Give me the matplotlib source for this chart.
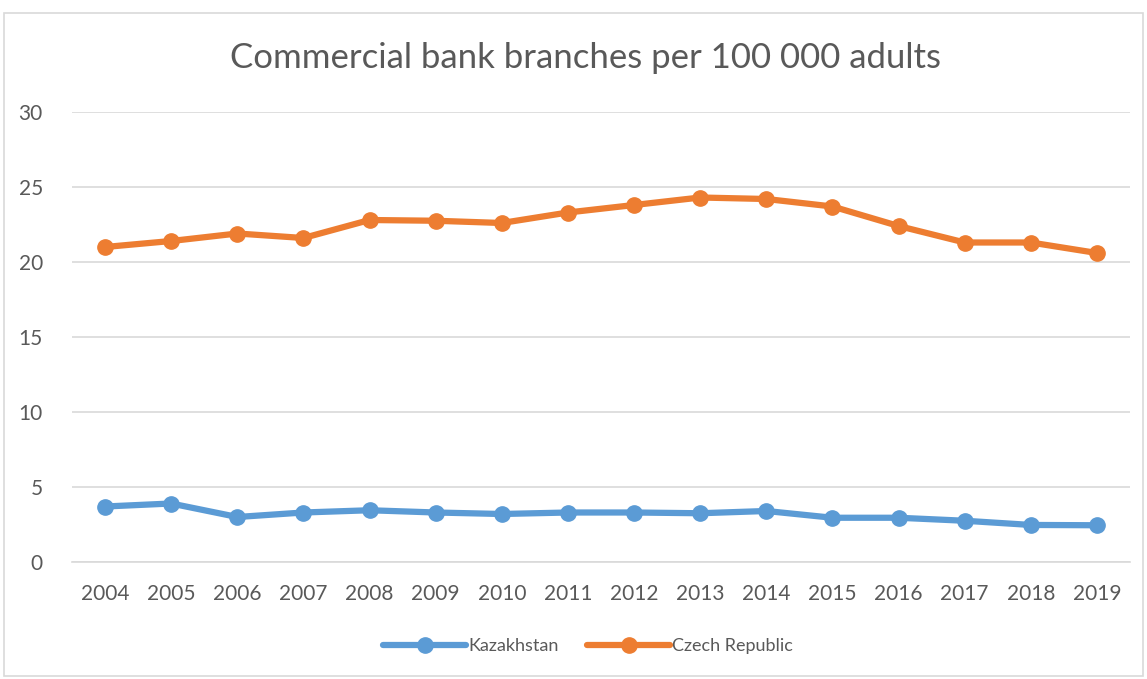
import matplotlib
matplotlib.use("Agg")
import matplotlib.pyplot as plt
from matplotlib.patches import Rectangle

years = [str(y) for y in range(2004, 2020)]
kazakhstan = [3.7, 3.9, 3.0, 3.3, 3.45, 3.3, 3.2, 3.3, 3.3, 3.25, 3.4, 2.95, 2.95, 2.75, 2.47, 2.45]
czech = [21.0, 21.4, 21.9, 21.6, 22.8, 22.75, 22.6, 23.3, 23.8, 24.3, 24.2, 23.7, 22.4, 21.3, 21.3, 20.6]
yticks = [0, 5, 10, 15, 20, 25, 30]

plt.rcParams['font.family'] = ['Lato', 'DejaVu Sans']
W, H = 1147, 679
fig = plt.figure(figsize=(W/100, H/100), dpi=100)
fig.patches.append(Rectangle((4/W, 3/H), 1139/W, (H-16)/H, transform=fig.transFigure,
                             fill=False, edgecolor='#D9D9D9', linewidth=1.2))

ax = fig.add_axes([72/W, 1-562/H, (1130-72)/W, 450/H])
x = list(range(len(years)))
ax.plot(x, kazakhstan, color='#5B9BD5', lw=4.5, marker='o', ms=11, label='Kazakhstan', solid_capstyle='round')
ax.plot(x, czech, color='#ED7D31', lw=4.5, marker='o', ms=11, label='Czech Republic', solid_capstyle='round')
ax.set_xlim(-0.5, len(years)-0.5)
ax.set_ylim(0, 30)
ax.set_yticks(yticks)
ax.set_xticks(x)
ax.set_xticklabels(years)
ax.grid(axis='y', color='#D9D9D9', lw=1.2)
ax.set_axisbelow(True)
for s in ['top', 'right', 'left']:
    ax.spines[s].set_visible(False)
ax.spines['bottom'].set_color('#D9D9D9')
ax.spines['bottom'].set_linewidth(1.2)
ax.tick_params(axis='both', length=0, labelsize=15, colors='#595959')
ax.tick_params(axis='x', pad=16)
ax.tick_params(axis='y', pad=21)

fig.text(585/W, 1-58/H, 'Commercial bank branches per 100 000 adults', ha='center', va='center',
         fontsize=25, color='#595959')
leg = fig.legend(loc='center', bbox_to_anchor=(588/W, 1-646/H), ncol=2, frameon=False,
                 fontsize=13, handlelength=4.6, columnspacing=1.6, handletextpad=0.1)
for t in leg.get_texts():
    t.set_color('#595959')
fig.savefig('out.png', dpi=100)
